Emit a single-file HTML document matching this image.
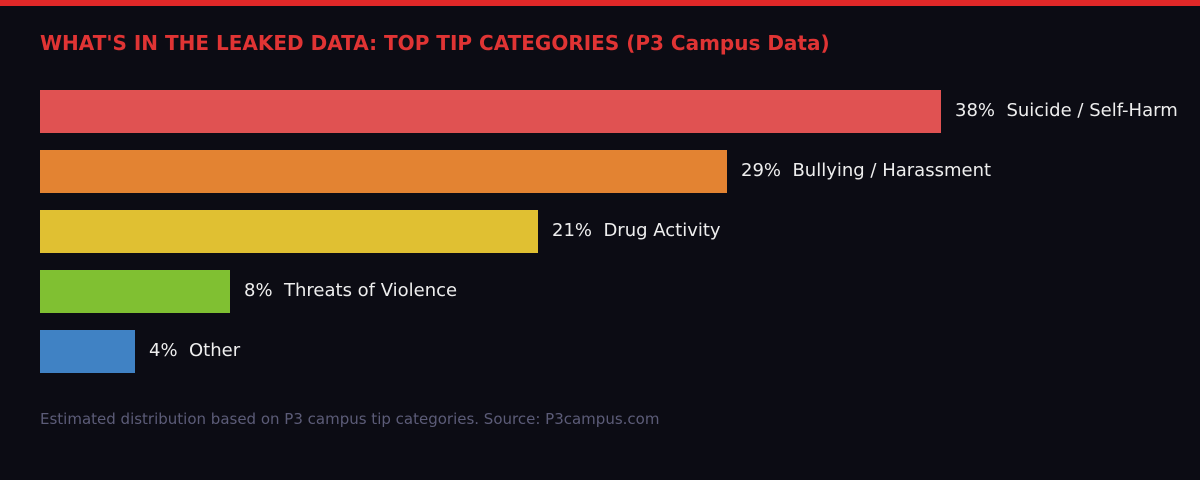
<!DOCTYPE html>
<html><head><meta charset="utf-8"><style>
body{margin:0;width:1200px;height:480px;background:#0c0c14;font-family:"DejaVu Sans","Liberation Sans",sans-serif;position:relative;overflow:hidden}
.top{position:absolute;left:0;top:0;width:1200px;height:6px;background:#e02828}
.title{position:absolute;left:40px;top:31px;font-size:20px;font-weight:bold;color:#e03434;white-space:nowrap}
.bar{position:absolute;left:40px;height:43px}
.lab{position:absolute;font-size:18px;color:#eeeeee;white-space:nowrap;line-height:20px}
.foot{position:absolute;left:40px;top:410px;font-size:15px;color:#5c5c78;white-space:nowrap}
</style></head><body>
<div class="top"></div>
<div class="title">WHAT'S IN THE LEAKED DATA: TOP TIP CATEGORIES (P3 Campus Data)</div>
<div class="bar" style="top:90px;width:901px;background:#e05252"></div>
<div class="lab" style="left:955px;top:101px">38%&nbsp; Suicide / Self-Harm</div>
<div class="bar" style="top:150px;width:687px;background:#e38332"></div>
<div class="lab" style="left:741px;top:161px">29%&nbsp; Bullying / Harassment</div>
<div class="bar" style="top:210px;width:498px;background:#e0c032"></div>
<div class="lab" style="left:552px;top:221px">21%&nbsp; Drug Activity</div>
<div class="bar" style="top:270px;width:190px;background:#80c032"></div>
<div class="lab" style="left:244px;top:281px">8%&nbsp; Threats of Violence</div>
<div class="bar" style="top:330px;width:95px;background:#4082c4"></div>
<div class="lab" style="left:149px;top:341px">4%&nbsp; Other</div>
<div class="foot">Estimated distribution based on P3 campus tip categories. Source: P3campus.com</div>
</body></html>
